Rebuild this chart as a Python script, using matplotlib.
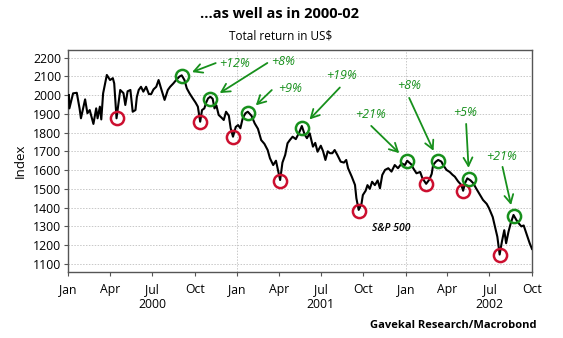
import matplotlib
matplotlib.use('Agg')
import matplotlib.pyplot as plt
import matplotlib.dates as mdates
import numpy as np
from datetime import datetime

plt.rcParams['font.family'] = ['Open Sans', 'DejaVu Sans']

# ---------------- data ----------------
dates = [
"2000-01-03","2000-01-04","2000-01-12","2000-01-20","2000-01-26","2000-01-29","2000-02-07","2000-02-12","2000-02-17","2000-02-25",
"2000-03-02","2000-03-05","2000-03-10","2000-03-13","2000-03-17","2000-03-25","2000-04-01","2000-04-07","2000-04-10","2000-04-15",
"2000-04-23","2000-04-30","2000-05-04","2000-05-09","2000-05-15","2000-05-20","2000-05-26","2000-05-29","2000-06-02","2000-06-07",
"2000-06-12","2000-06-18","2000-06-24","2000-06-29","2000-07-04","2000-07-10","2000-07-15","2000-07-21","2000-07-28","2000-08-04",
"2000-08-09","2000-08-16","2000-08-22","2000-08-29","2000-09-03","2000-09-09","2000-09-14","2000-09-20","2000-09-27","2000-10-03",
"2000-10-08","2000-10-13","2000-10-17","2000-10-22","2000-10-26","2000-10-30","2000-11-04","2000-11-09","2000-11-13","2000-11-17",
"2000-11-22","2000-11-28","2000-12-03","2000-12-08","2000-12-14","2000-12-18","2000-12-23","2000-12-29","2001-01-03","2001-01-08",
"2001-01-13","2001-01-19","2001-01-24","2001-02-01","2001-02-08","2001-02-15","2001-02-22","2001-03-01","2001-03-08","2001-03-13",
"2001-03-20","2001-03-26","2001-04-01","2001-04-04","2001-04-09","2001-04-15","2001-04-20","2001-04-25","2001-05-01","2001-05-08",
"2001-05-16","2001-05-21","2001-05-27","2001-06-01","2001-06-07","2001-06-14","2001-06-19","2001-06-24","2001-07-01","2001-07-06",
"2001-07-11","2001-07-16","2001-07-21","2001-07-26","2001-07-31","2001-08-06","2001-08-13","2001-08-20","2001-08-25","2001-08-29",
"2001-09-06","2001-09-13","2001-09-16","2001-09-21","2001-09-27","2001-09-30","2001-10-06","2001-10-10","2001-10-15","2001-10-20",
"2001-10-26","2001-11-01","2001-11-06","2001-11-11","2001-11-17","2001-11-24","2001-12-01","2001-12-08","2001-12-15","2001-12-23",
"2001-12-30","2002-01-04","2002-01-13","2002-01-17","2002-01-24","2002-02-01","2002-02-06","2002-02-14","2002-02-21","2002-02-26",
"2002-03-01","2002-03-07","2002-03-12","2002-03-19","2002-03-22","2002-03-30","2002-04-06","2002-04-12","2002-04-17","2002-04-24",
"2002-05-01","2002-05-05","2002-05-09","2002-05-14","2002-05-18","2002-05-21","2002-05-27","2002-06-02","2002-06-10","2002-06-17",
"2002-06-25","2002-06-30","2002-07-08","2002-07-13","2002-07-18","2002-07-23","2002-07-28","2002-08-02","2002-08-06","2002-08-11",
"2002-08-16","2002-08-22","2002-08-28","2002-09-02","2002-09-08","2002-09-13","2002-09-20","2002-09-26","2002-10-01"]

sp500 = [
2000,1929,2009,2012,1929,1876,1977,1903,1920,1846,
1929,1876,1938,1870,2009,2107,2080,2090,2062,1876,
2027,2010,1947,2020,2027,1911,1920,1990,2027,2044,
2018,2044,2005,2005,2030,2044,2080,2030,1974,2027,
2044,2062,2080,2098,2105,2080,2036,2009,1982,1960,
1938,1858,1920,1929,1960,1982,1991,1980,1929,1945,
1894,1880,1867,1911,1890,1823,1778,1830,1840,1823,
1876,1903,1911,1890,1849,1820,1760,1740,1707,1663,
1627,1650,1583,1547,1640,1681,1743,1760,1778,1765,
1805,1835,1790,1770,1796,1725,1745,1698,1730,1700,
1654,1700,1690,1690,1707,1680,1645,1640,1654,1610,
1565,1521,1450,1388,1420,1467,1490,1520,1500,1538,
1520,1545,1503,1574,1601,1610,1592,1627,1610,1636,
1627,1650,1630,1610,1583,1590,1556,1527,1550,1580,
1627,1645,1654,1645,1630,1601,1590,1575,1565,1540,
1521,1490,1530,1556,1550,1545,1530,1503,1470,1441,
1420,1397,1350,1298,1245,1150,1220,1280,1210,1270,
1317,1361,1335,1317,1300,1305,1254,1210,1180]

low_dates = ["2000-04-15","2000-10-13","2000-12-23","2001-04-04","2001-09-21","2002-02-14","2002-05-05","2002-07-23"]
low_values = [1880,1856,1776,1542,1382,1526,1489,1148]

peak_dates = ["2000-09-03","2000-11-04","2001-01-24","2001-05-21","2002-01-04","2002-03-12","2002-05-18","2002-08-22"]
peak_values = [2101,1979,1904,1827,1649,1649,1553,1356]
peak_labels = ["+12%","+8%","+9%","+19%","+21%","+8%","+5%","+21%"]

# layout of annotations (pixel offsets from circle centre: arrow tail, text centre)
tail_off = [(34,13),(57,36),(24,23),(38,40),(-36,35),(-29,63),(-3,55),(-11,49)]
text_off = [(53,13),(73,37),(42,25),(40,52),(-37,46),(-29,75),(-4,66),(-12,59)]

yticks = list(range(1100, 2201, 100))
year_labels = ["2000", "2001", "2002"]

# ---------------- plot ----------------
GREEN = '#17901c'
RED = '#cc0f2f'

to_dt = lambda s: datetime.strptime(s, "%Y-%m-%d")
x = [to_dt(d) for d in dates]

fig = plt.figure(figsize=(5.63, 3.38), dpi=100)
ax = fig.add_axes([68/563, 1-272/338, (532-68)/563, (272-50)/338])

ax.plot(x, sp500, color='black', lw=1.5, zorder=3)

ax.plot([to_dt(d) for d in low_dates], low_values, 'o', ms=9.5, mfc='none',
        mec=RED, mew=1.8, zorder=4)
ax.plot([to_dt(d) for d in peak_dates], peak_values, 'o', ms=9.5, mfc='none',
        mec=GREEN, mew=1.8, zorder=4)

for d, v, lab, to, te in zip(peak_dates, peak_values, peak_labels, tail_off, text_off):
    ax.annotate('', xy=(to_dt(d), v), xycoords='data',
                xytext=to, textcoords='offset pixels',
                arrowprops=dict(arrowstyle='->,head_length=0.6,head_width=0.32',
                                color=GREEN, lw=1.3, shrinkA=0, shrinkB=8))
    ax.annotate(lab, xy=(to_dt(d), v), xycoords='data',
                xytext=te, textcoords='offset pixels',
                ha='center', va='center', color=GREEN, fontsize=9,
                style='italic')

ax.set_xlim(datetime(2000, 1, 1), datetime(2002, 10, 1))
ax.set_ylim(1057, 2240)
ax.set_yticks(yticks)
ax.xaxis.set_major_locator(mdates.MonthLocator(bymonth=[1, 4, 7, 10]))
ax.xaxis.set_major_formatter(mdates.DateFormatter('%b'))

ax.grid(axis='y', color='#c8c8c8', lw=0.7, ls=(0, (1.5, 1.5)))
for yr in [2001, 2002]:
    ax.axvline(datetime(yr, 1, 1), color='#c8c8c8', lw=0.7, ls=(0, (1.5, 1.5)), zorder=1)

for s in ax.spines.values():
    s.set_color('#555555')
    s.set_linewidth(1.0)

ax.tick_params(axis='both', colors='#555555', labelcolor='black', labelsize=8.8,
               length=3, width=0.8, direction='out')
ax.tick_params(axis='y', pad=2)
ax.tick_params(axis='x', pad=5)

trans = ax.get_xaxis_transform()
for i, yl in enumerate(year_labels):
    ax.text(datetime(2000 + i, 7, 1), -0.145, yl, transform=trans,
            ha='center', va='center', fontsize=8.8)

ax.set_ylabel('Index', fontsize=9.5)
ax.yaxis.set_label_coords(-0.088, 0.5)

ax.text(datetime(2001, 12, 1), 1290, 'S&P 500', ha='center', va='center',
        fontsize=7.5, style='italic', fontweight='semibold')

fig.text(280/563, 1-14/338, '...as well as in 2000-02', ha='center', va='center',
         fontsize=10.5, fontweight='bold')
fig.text(281/563, 1-36/338, 'Total return in US$', ha='center', va='center',
         fontsize=8.5)
fig.text(537/563, 1-325/338, 'Gavekal Research/Macrobond', ha='right', va='center',
         fontsize=8, fontweight='bold')

fig.savefig('out.png', dpi=100)
